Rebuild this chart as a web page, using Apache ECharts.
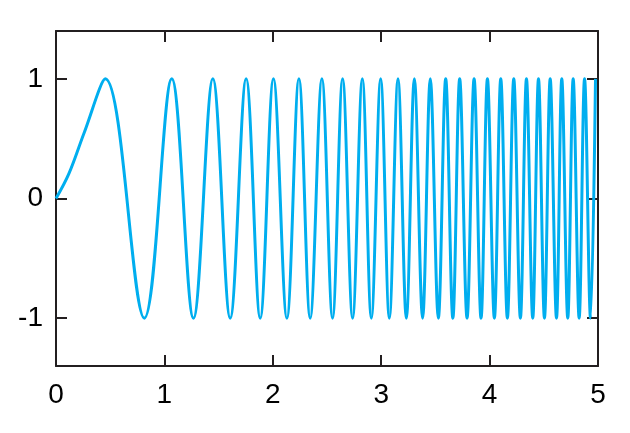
<!DOCTYPE html>
<html>
<head>
<meta charset="utf-8">
<script src="https://cdn.jsdelivr.net/npm/echarts@6/dist/echarts.min.js"></script>
<style>html,body{margin:0;padding:0;background:#fff}#c{width:630px;height:433px}</style>
</head>
<body>
<div id="c"></div>
<script>
// Values
const startX = [0, 0.12, 0.26];
const startY = [0, 0.21, 0.55];
const peakX = [0.455, 1.068, 1.447, 1.754, 2.006, 2.241, 2.453, 2.644, 2.826, 2.995,
  3.155, 3.306, 3.453, 3.595, 3.724, 3.857, 3.980, 4.103, 4.223, 4.340,
  4.451, 4.559, 4.666, 4.771, 4.876, 4.977];
const troughX = [0.815, 1.268, 1.607, 1.884, 2.130, 2.345, 2.551, 2.736, 2.909, 3.075,
  3.232, 3.382, 3.527, 3.661, 3.792, 3.921, 4.044, 4.164, 4.284, 4.398,
  4.506, 4.617, 4.721, 4.826, 4.931];
const peakValue = 1;
const troughValue = -1;
const yTicks = [-1, 0, 1];

const pts = [];
startX.forEach((x, i) => pts.push([x, startY[i]]));
peakX.forEach(x => pts.push([x, peakValue]));
troughX.forEach(x => pts.push([x, troughValue]));
pts.sort((a, b) => a[0] - b[0]);

const axisColor = '#231f20';
const font = 'Liberation Sans, Arial, sans-serif';
const common = {
  axisLine: { show: true, onZero: false, lineStyle: { color: axisColor, width: 2 } },
  axisTick: { show: true, inside: true, length: 11, lineStyle: { color: axisColor, width: 2 } },
  splitLine: { show: false }
};

const chart = echarts.init(document.getElementById('c'));
chart.setOption({
  animation: false,
  backgroundColor: '#fff',
  grid: { left: 56, right: 32, top: 31, bottom: 67 },
  xAxis: [
    Object.assign({}, common, {
      type: 'value', min: 0, max: 5, interval: 1, position: 'bottom',
      axisLabel: { show: true, margin: 15, color: '#000', fontSize: 28, fontFamily: font }
    }),
    Object.assign({}, common, {
      type: 'value', min: 0, max: 5, interval: 1, position: 'top',
      axisLabel: { show: false }
    })
  ],
  yAxis: [
    Object.assign({}, common, {
      type: 'value', min: -1.4, max: 1.4, position: 'left',
      axisTick: Object.assign({}, common.axisTick, { customValues: yTicks }),
      axisLabel: { show: true, customValues: yTicks, margin: 13, color: '#000', fontSize: 28, fontFamily: font }
    }),
    Object.assign({}, common, {
      type: 'value', min: -1.4, max: 1.4, position: 'right',
      axisTick: Object.assign({}, common.axisTick, { customValues: yTicks }),
      axisLabel: { show: false }
    })
  ],
  series: [{
    type: 'line',
    xAxisIndex: 0,
    yAxisIndex: 0,
    data: pts,
    smooth: 0.36,
    showSymbol: false,
    symbol: 'none',
    lineStyle: { color: '#00aeef', width: 3 }
  }]
});
</script>
</body>
</html>
